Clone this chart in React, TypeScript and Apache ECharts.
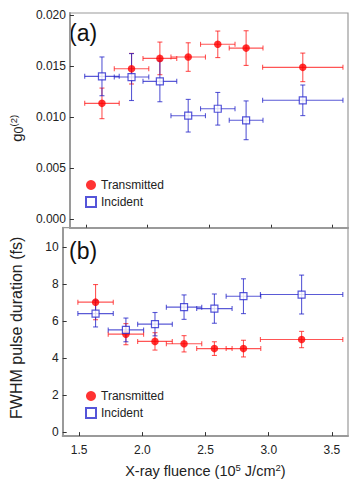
import React, { useEffect, useRef } from "react";
import * as echarts from "echarts";

const fluence = [1.63, 1.87, 2.1, 2.33, 2.57, 2.8, 3.26];
const fluenceErr = [0.14, 0.14, 0.137, 0.14, 0.14, 0.137, 0.326];

const g2Transmitted = [0.01134, 0.01474, 0.01575, 0.01588, 0.01713, 0.01676, 0.01487];
const g2TransmittedErr = [0.0015, 0.0015, 0.0016, 0.0014, 0.0013, 0.0017, 0.0014];
const g2Incident = [0.01399, 0.01392, 0.0135, 0.01013, 0.01081, 0.00968, 0.01164];
const g2IncidentErr = [0.0019, 0.0023, 0.002, 0.0016, 0.0016, 0.0019, 0.0015];

const fwhmTransmitted = [7.02, 5.29, 4.9, 4.77, 4.51, 4.51, 5.0];
const fwhmTransmittedErr = [0.95, 0.57, 0.47, 0.44, 0.37, 0.45, 0.44];
const fwhmIncident = [6.4, 5.52, 5.83, 6.75, 6.67, 7.34, 7.43];
const fwhmIncidentErr = [0.72, 0.64, 0.63, 0.66, 0.79, 0.94, 1.05];

const xTicks = [1.5, 2.0, 2.5, 3.0, 3.5];
const g2Ticks = [0, 0.005, 0.01, 0.015, 0.02];
const fwhmTicks = [0, 2, 4, 6, 8, 10];

const FONT = "Liberation Sans, Arial, Helvetica, sans-serif";
const RED = "#ff0000";
const RED_ERR = "rgba(255,20,20,0.72)";
const BLUE = "#2a2ad0";
const BLUE_ERR = "rgba(35,35,200,0.75)";
const AXIS_GRAY = "#9a9a9a";

function errRender(color: string) {
  return (params: any, api: any) => {
    const x = api.value(0);
    const y = api.value(1);
    const xe = api.value(2);
    const ye = api.value(3);
    const c = api.coord([x, y]);
    const l = api.coord([x - xe, y]);
    const r = api.coord([x + xe, y]);
    const t = api.coord([x, y + ye]);
    const b = api.coord([x, y - ye]);
    const cap = 2.5;
    const style = { stroke: color, lineWidth: 1.1, fill: "none" };
    const ln = (x1: number, y1: number, x2: number, y2: number) => ({
      type: "line",
      shape: { x1, y1, x2, y2 },
      style,
    });
    return {
      type: "group",
      children: [
        ln(l[0], c[1], r[0], c[1]),
        ln(l[0], c[1] - cap, l[0], c[1] + cap),
        ln(r[0], c[1] - cap, r[0], c[1] + cap),
        ln(c[0], t[1], c[0], b[1]),
        ln(c[0] - cap, t[1], c[0] + cap, t[1]),
        ln(c[0] - cap, b[1], c[0] + cap, b[1]),
      ],
    };
  };
}

function errData(ys: number[], yerr: number[]) {
  return fluence.map((x, i) => [x, ys[i], fluenceErr[i], yerr[i]]);
}
function ptData(ys: number[]) {
  return fluence.map((x, i) => [x, ys[i]]);
}

export default function App() {
  const ref = useRef<HTMLDivElement>(null);
  useEffect(() => {
    document.body.style.margin = "0";
    if (!ref.current) return;
    const chart = echarts.init(ref.current, undefined, { renderer: "svg" });

    const xAxisBase = {
      type: "value",
      min: 1.37,
      max: 3.627,
      axisLine: { show: true, onZero: false, lineStyle: { color: AXIS_GRAY, width: 2 } },
      axisTick: { show: true, inside: true, length: 3, lineStyle: { color: "#333", width: 1 }, customValues: xTicks },
      splitLine: { show: false },
    };

    const legendBase = {
      orient: "vertical",
      left: 85,
      padding: 0,
      itemWidth: 10,
      itemHeight: 10,
      itemGap: 5,
      textStyle: { fontSize: 12, fontFamily: FONT, color: "#222" },
      data: ["Transmitted", "Incident"],
    };

    const option: any = {
      animation: false,
      textStyle: { fontFamily: FONT },
      grid: [
        { left: 62.7, right: 6, top: 13, height: 214.7, show: true, borderColor: AXIS_GRAY, borderWidth: 1.2 },
        { left: 62.7, right: 6, top: 227.7, height: 211.3, show: true, borderColor: AXIS_GRAY, borderWidth: 1.2 },
      ],
      xAxis: [
        {
          ...xAxisBase,
          gridIndex: 0,
          position: "bottom",
          axisLabel: { show: false },
        },
        {
          ...xAxisBase,
          gridIndex: 1,
          position: "bottom",
          axisLabel: {
            show: true,
            customValues: xTicks,
            color: "#222",
            fontSize: 12,
            fontFamily: FONT,
            margin: 8,
            formatter: (v: number) => v.toFixed(1),
          },
          name: "{n|X-ray fluence (10}{s|5}{n| J/cm}{s|2}{n|)}",
          nameLocation: "middle",
          nameGap: 26,
          nameTextStyle: {
            rich: {
              n: { fontSize: 14.5, fontFamily: FONT, color: "#222", lineHeight: 17 },
              s: { fontSize: 9.5, fontFamily: FONT, color: "#222", lineHeight: 12, verticalAlign: "top" },
            },
          },
        },
        {
          ...xAxisBase,
          gridIndex: 1,
          position: "top",
          axisLine: { show: false },
          axisLabel: { show: false },
        },
      ],
      yAxis: [
        {
          type: "value",
          gridIndex: 0,
          min: -0.00085,
          max: 0.0202,
          axisLine: { show: true, onZero: false, lineStyle: { color: AXIS_GRAY, width: 2 } },
          axisTick: { show: true, inside: true, length: 4, lineStyle: { color: "#333", width: 1 }, customValues: g2Ticks },
          splitLine: { show: false },
          axisLabel: {
            customValues: g2Ticks,
            color: "#222",
            fontSize: 12,
            fontFamily: FONT,
            margin: 4,
            formatter: (v: number) => v.toFixed(3),
          },
          name: "{g|g}{b|0}{s|(2)}",
          nameLocation: "middle",
          nameRotate: 90,
          nameGap: 42,
          nameTextStyle: {
            padding: [0, 16, 0, 0],
            rich: {
              g: { fontSize: 15, fontFamily: FONT, color: "#222", lineHeight: 17 },
              b: { fontSize: 12.5, fontFamily: FONT, color: "#222", lineHeight: 17, verticalAlign: "bottom" },
              s: { fontSize: 9.5, fontFamily: FONT, color: "#222", lineHeight: 11, verticalAlign: "top" },
            },
          },
        },
        {
          type: "value",
          gridIndex: 1,
          min: -0.21,
          max: 11.04,
          axisLine: { show: true, onZero: false, lineStyle: { color: AXIS_GRAY, width: 2 } },
          axisTick: { show: true, inside: true, length: 4, lineStyle: { color: "#333", width: 1 }, customValues: fwhmTicks },
          splitLine: { show: false },
          axisLabel: {
            customValues: fwhmTicks,
            color: "#222",
            fontSize: 12,
            fontFamily: FONT,
            margin: 4,
          },
          name: "FWHM pulse duration (fs)",
          nameLocation: "middle",
          nameRotate: 90,
          nameGap: 38,
          nameTextStyle: { fontSize: 16, fontFamily: FONT, color: "#222", padding: [0, 0, 0, 8] },
        },
      ],
      legend: [
        { ...legendBase, top: 179 },
        { ...legendBase, top: 390 },
      ],
      graphic: [
        {
          type: "text",
          left: 69,
          top: 21,
          style: { text: "(a)", font: `23px ${FONT}`, fill: "#111" },
        },
        {
          type: "text",
          left: 69,
          top: 239,
          style: { text: "(b)", font: `23px ${FONT}`, fill: "#111" },
        },
      ],
      series: [
        {
          type: "custom",
          name: "Transmitted error",
          xAxisIndex: 0,
          yAxisIndex: 0,
          renderItem: errRender(RED_ERR),
          encode: { x: 0, y: 1 },
          data: errData(g2Transmitted, g2TransmittedErr),
        },
        {
          type: "scatter",
          name: "Transmitted",
          xAxisIndex: 0,
          yAxisIndex: 0,
          symbol: "circle",
          symbolSize: 7.5,
          itemStyle: { color: RED },
          data: ptData(g2Transmitted),
        },
        {
          type: "custom",
          name: "Incident error",
          xAxisIndex: 0,
          yAxisIndex: 0,
          renderItem: errRender(BLUE_ERR),
          encode: { x: 0, y: 1 },
          data: errData(g2Incident, g2IncidentErr),
        },
        {
          type: "scatter",
          name: "Incident",
          xAxisIndex: 0,
          yAxisIndex: 0,
          symbol: "rect",
          symbolSize: 7,
          itemStyle: { color: "#ffffff", borderColor: BLUE, borderWidth: 1.2 },
          data: ptData(g2Incident),
        },
        {
          type: "custom",
          name: "Transmitted error b",
          xAxisIndex: 1,
          yAxisIndex: 1,
          renderItem: errRender(RED_ERR),
          encode: { x: 0, y: 1 },
          data: errData(fwhmTransmitted, fwhmTransmittedErr),
        },
        {
          type: "scatter",
          name: "Transmitted",
          xAxisIndex: 1,
          yAxisIndex: 1,
          symbol: "circle",
          symbolSize: 7.5,
          itemStyle: { color: RED },
          data: ptData(fwhmTransmitted),
        },
        {
          type: "custom",
          name: "Incident error b",
          xAxisIndex: 1,
          yAxisIndex: 1,
          renderItem: errRender(BLUE_ERR),
          encode: { x: 0, y: 1 },
          data: errData(fwhmIncident, fwhmIncidentErr),
        },
        {
          type: "scatter",
          name: "Incident",
          xAxisIndex: 1,
          yAxisIndex: 1,
          symbol: "rect",
          symbolSize: 7,
          itemStyle: { color: "#ffffff", borderColor: BLUE, borderWidth: 1.2 },
          data: ptData(fwhmIncident),
        },
      ],
    };
    chart.setOption(option);
    return () => chart.dispose();
  }, []);
  return <div ref={ref} style={{ width: 354, height: 479 }} />;
}
